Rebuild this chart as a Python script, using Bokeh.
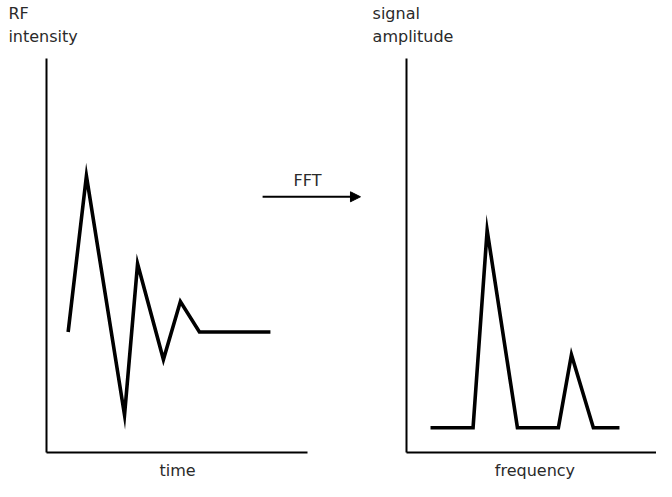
from bokeh.plotting import figure
from bokeh.layouts import row
from bokeh.models import Range1d, FixedTicker, Label, Arrow, NormalHead
from bokeh.embed import file_html
from bokeh.resources import INLINE

# ---- data ----
time_x = [8.3, 15.3, 29.9, 34.9, 44.8, 51.3, 58.6, 85.8]
rf_y = [30.6, 70.2, 9.5, 47.9, 23.6, 38.3, 30.6, 30.6]

freq_x = [9.2, 25.5, 30.9, 42.5, 58.2, 63.2, 71.6, 81.6]
amp_y = [6.3, 6.3, 56.4, 6.3, 6.3, 24.8, 6.3, 6.3]

left_ylabel = "RF\nintensity"
left_xlabel = "time"
right_ylabel = "signal\namplitude"
right_xlabel = "frequency"
arrow_label = "FFT"

FONT = "DejaVu Sans"
FSIZE = "16px"
TCOL = "#2a2a2a"
H = 481


def style(p):
    p.outline_line_color = None
    p.xgrid.grid_line_color = None
    p.ygrid.grid_line_color = None
    p.background_fill_color = "white"
    p.border_fill_color = "white"
    for ax in (p.xaxis[0], p.yaxis[0]):
        ax.fixed_location = 0
        ax.bounds = (0, 100)
        ax.ticker = FixedTicker(ticks=[])
        ax.major_tick_line_color = None
        ax.minor_tick_line_color = None
        ax.major_tick_out = 0
        ax.major_tick_in = 0
        ax.minor_tick_out = 0
        ax.minor_tick_in = 0
        ax.major_label_standoff = 0
        ax.major_label_text_font_size = "0px"
        ax.axis_line_width = 2
        ax.axis_line_color = "black"


def lab(p, x, y, text, align="left", baseline="alphabetic"):
    p.add_layout(Label(x=x, y=y, text=text, text_font=FONT, text_font_size=FSIZE,
                       text_color=TCOL, text_align=align, text_baseline=baseline,
                       text_line_height=1.25))


Y_RANGE = (-7.36, 114.72)

# ---- left panel ----
p1 = figure(width=366, height=H, output_backend="svg", toolbar_location=None,
            x_range=Range1d(-17.62, 122.61), y_range=Range1d(*Y_RANGE),
            min_border=0)
style(p1)
p1.line(time_x, rf_y, line_width=3.6, line_color="black", line_join="miter")

lab(p1, -14.6, 113.9, left_ylabel, baseline="top")
lab(p1, 50.2, -4.6, left_xlabel, align="center")
lab(p1, 100.0, 69.0, arrow_label, align="center")
p1.add_layout(Arrow(x_start=82.8, y_start=64.9, x_end=120.3, y_end=64.9,
                    line_width=2, line_color="black",
                    end=NormalHead(size=10, fill_color="black", line_color="black",
                                   line_width=1)))

# ---- right panel ----
p2 = figure(width=290, height=H, output_backend="svg", toolbar_location=None,
            x_range=Range1d(-15.33, 95.79), y_range=Range1d(*Y_RANGE),
            min_border=0)
style(p2)
p2.line(freq_x, amp_y, line_width=3.6, line_color="black", line_join="miter")

lab(p2, -13.0, 113.9, right_ylabel, baseline="top")
lab(p2, 49.2, -4.6, right_xlabel, align="center")

layout = row(p1, p2)
open("out.html", "w").write(file_html(layout, INLINE))
